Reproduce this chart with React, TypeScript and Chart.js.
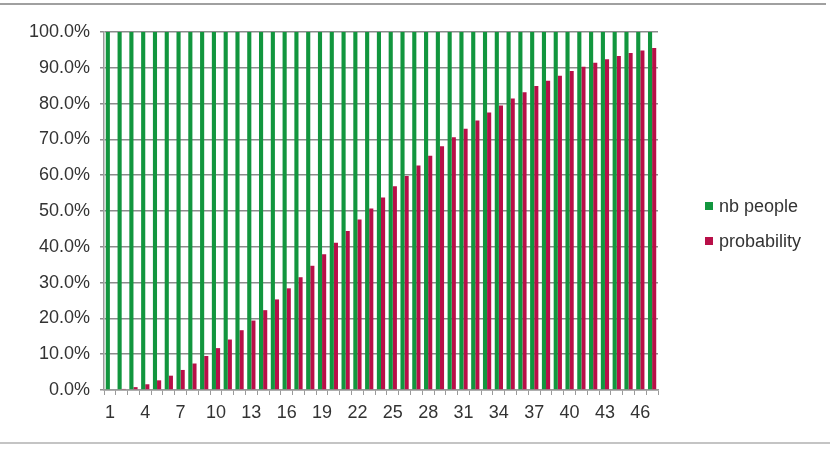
import { useEffect, useRef } from "react";
import { Chart, registerables } from "chart.js";

Chart.register(...registerables);

// number of people in the room
const people = [
  1, 2, 3, 4, 5, 6, 7, 8, 9, 10, 11, 12, 13, 14, 15, 16, 17, 18, 19, 20, 21,
  22, 23, 24, 25, 26, 27, 28, 29, 30, 31, 32, 33, 34, 35, 36, 37, 38, 39, 40,
  41, 42, 43, 44, 45, 46, 47,
];
// "nb people" series sits at 100% for every category
const nbPeople = people.map(() => 1);
// probability that two share a birthday
const probability = [
  0.0, 0.003, 0.008, 0.016, 0.027, 0.04, 0.056, 0.074, 0.095, 0.117, 0.141,
  0.167, 0.194, 0.223, 0.253, 0.284, 0.315, 0.347, 0.379, 0.411, 0.444, 0.476,
  0.507, 0.538, 0.569, 0.598, 0.627, 0.654, 0.681, 0.706, 0.73, 0.753, 0.775,
  0.795, 0.814, 0.832, 0.849, 0.864, 0.878, 0.891, 0.903, 0.914, 0.924, 0.933,
  0.941, 0.948, 0.955,
];

const GREEN = "#12963e";
const RED = "#b80f48";
const TEXT = "#333333";
const FONT = "Arial, 'Liberation Sans', sans-serif";

export default function App() {
  const chartRef = useRef<HTMLCanvasElement>(null);
  const chartInstance = useRef<Chart | null>(null);

  useEffect(() => {
    document.body.style.margin = "0";
    if (!chartRef.current) return;
    if (chartInstance.current) chartInstance.current.destroy();
    const ctx = chartRef.current.getContext("2d");
    if (!ctx) return;

    chartInstance.current = new Chart(ctx, {
      type: "bar",
      data: {
        labels: people.map(String),
        datasets: [
          {
            label: "nb people",
            data: nbPeople,
            backgroundColor: GREEN,
            categoryPercentage: 0.7,
            barPercentage: 1,
          },
          {
            label: "probability",
            data: probability,
            backgroundColor: RED,
            categoryPercentage: 0.7,
            barPercentage: 1,
          },
        ],
      },
      options: {
        responsive: false,
        animation: false,
        layout: { padding: { left: 0, right: 177, top: 32, bottom: 0 } },
        plugins: {
          legend: { display: false },
          tooltip: { enabled: false },
        },
        scales: {
          x: {
            grid: {
              display: true,
              drawOnChartArea: false,
              drawTicks: true,
              tickLength: 5,
              color: "#9a9a9a",
            },
            border: { display: true, color: "#9a9a9a", width: 1.5 },
            ticks: {
              autoSkip: false,
              maxRotation: 0,
              padding: 7,
              color: TEXT,
              font: { family: FONT, size: 18 },
              callback: (_v, i) => (i % 3 === 0 ? people[i] : ""),
            },
            afterFit: (scale) => {
              scale.height = 59;
            },
          },
          y: {
            min: 0,
            max: 1,
            ticks: {
              stepSize: 0.1,
              padding: 10,
              color: TEXT,
              font: { family: FONT, size: 18 },
              callback: (v) => (Number(v) * 100).toFixed(1) + "%",
            },
            grid: {
              color: "#8c8c8c",
              lineWidth: 1.5,
              tickLength: 4,
            },
            border: { display: true, color: "#9a9a9a", width: 1.5 },
            afterFit: (scale) => {
              scale.width = 104;
            },
          },
        },
      },
    });

    return () => {
      if (chartInstance.current) chartInstance.current.destroy();
    };
  }, []);

  return (
    <div style={{ position: "relative", width: 835, height: 449, background: "#fff" }}>
      <div style={{ position: "absolute", left: 0, top: 3, width: 826, height: 2, background: "#a0a0a0" }} />
      <canvas ref={chartRef} width={835} height={449} style={{ position: "absolute", left: 0, top: 0 }} />
      <div style={{ position: "absolute", left: 0, top: 442, width: 830, height: 2, background: "#c4c4c4" }} />
      <div style={{ position: "absolute", left: 705, top: 195, fontFamily: FONT, fontSize: 18, color: TEXT, lineHeight: "22px" }}>
        {[
          { label: "nb people", color: GREEN },
          { label: "probability", color: RED },
        ].map((item, i) => (
          <div key={item.label} style={{ display: "flex", alignItems: "center", marginTop: i ? 13 : 0 }}>
            <span style={{ display: "inline-block", width: 8, height: 8, background: item.color, marginRight: 6 }} />
            {item.label}
          </div>
        ))}
      </div>
    </div>
  );
}
